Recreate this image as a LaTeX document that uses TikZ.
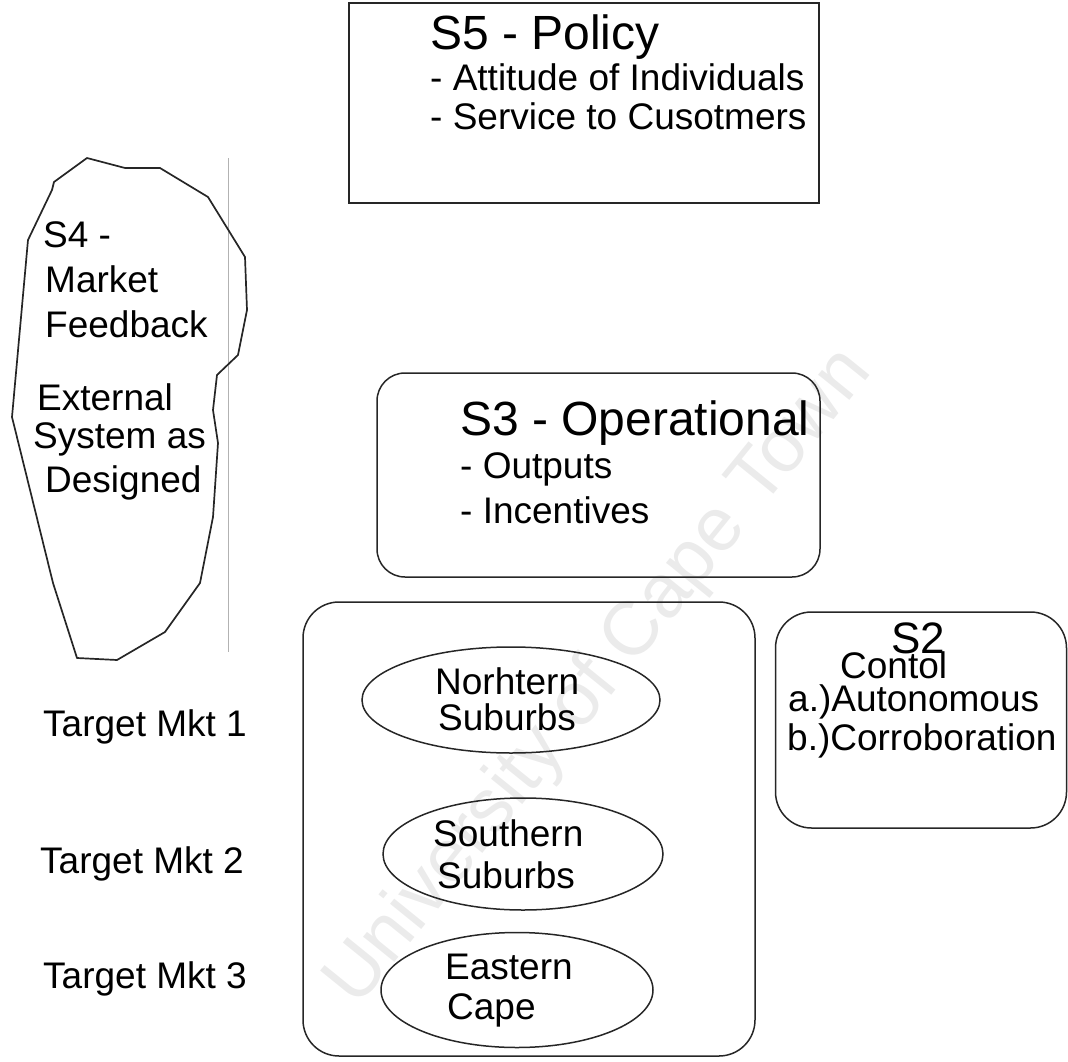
\documentclass[tikz,border=0pt]{standalone}
\usepackage{fontspec}
\setmainfont{Liberation Sans}
\usetikzlibrary{shapes.geometric}
\begin{document}
\begin{tikzpicture}[x=1pt, y=-1pt,
    frame/.style={draw=black!85, line width=1.5pt, inner sep=0pt},
    roundbox/.style={frame, rounded corners=32pt},
    bubble/.style={frame, ellipse},
    head/.style={anchor=base west, inner sep=0pt, font=\fontsize{48}{48}\selectfont},
    txt/.style={anchor=base west, inner sep=0pt, font=\fontsize{37}{37}\selectfont}]
 				\useasboundingbox (0,0) rectangle (1068,1062);
 				\node [rotate=51, text=black!8, font=\fontsize{76}{76}\selectfont] (mark) at (600,678) {University of Cape Town};
 				\node [frame, minimum width=470pt, minimum height=200pt] (s5) at (584,103) {};
 				\node [head] (s5t) at (430,50) {S5 - Policy};
 				\node [txt] (s5a) at (430,91) {- Attitude of Individuals};
 				\node [txt] (s5b) at (430,130) {- Service to Cusotmers};
 				\draw [black!30, line width=0.8pt] (228,158) -- (228,652);
 				\draw [black!85, line width=1.7pt, line join=round]
 					(87,158) -- (125,168) -- (160,168) -- (208,197) -- (245,257) -- (247,310)
 					-- (238,355) -- (217,375) -- (213,410) -- (218,443) -- (213,517) -- (200,583)
 					-- (165,632) -- (117,660) -- (77,658) -- (53,583) -- (12,417) -- (28,240)
 					-- (52,190) -- (54,182) -- cycle;
 				\node [txt] (s4a) at (43,247) {S4 -};
 				\node [txt] (s4b) at (45,292) {Market};
 				\node [txt] (s4c) at (45,337) {Feedback};
 				\node [txt] (s4d) at (37,410) {External};
 				\node [txt] (s4e) at (33,448) {System as};
 				\node [txt] (s4f) at (45,492) {Designed};
 				\node [roundbox, rounded corners=28pt, minimum width=443pt, minimum height=204pt] (s3) at (598.5,475) {};
 				\node [head] (s3t) at (460,435) {S3 - Operational};
 				\node [txt] (s3a) at (460,478) {- Outputs};
 				\node [txt] (s3b) at (460,523) {- Incentives};
 				\node [roundbox, rounded corners=36pt, minimum width=452pt, minimum height=454pt] (s1) at (529,829) {};
 				\node [bubble, minimum width=298pt, minimum height=106pt] (north) at (511,700) {};
 				\node [bubble, minimum width=280pt, minimum height=112pt] (south) at (523,854) {};
 				\node [bubble, minimum width=272pt, minimum height=115pt] (east) at (517,990) {};
 				\node [txt] (northa) at (435,694) {Norhtern};
 				\node [txt] (northb) at (438,730) {Suburbs};
 				\node [txt] (southa) at (433,846) {Southern};
 				\node [txt] (southb) at (437,888) {Suburbs};
 				\node [txt] (easta) at (445,979) {Eastern};
 				\node [txt] (eastb) at (447,1019) {Cape};
 				\node [txt] (mkt1) at (43,736) {Target Mkt 1};
 				\node [txt] (mkt2) at (40,873) {Target Mkt 2};
 				\node [txt] (mkt3) at (43,988) {Target Mkt 3};
 				\node [roundbox, rounded corners=36pt, minimum width=291pt, minimum height=216pt] (s2) at (921,720) {};
 				\node [anchor=base, inner sep=0pt, font=\fontsize{44}{44}\selectfont] (s2t) at (918,653) {S2};
 				\node [txt] (s2a) at (840,678) {Contol};
 				\node [txt] (s2b) at (788,711) {a.)Autonomous};
 				\node [txt] (s2c) at (787,750) {b.)Corroboration};
 			\end{tikzpicture}
\end{document}
